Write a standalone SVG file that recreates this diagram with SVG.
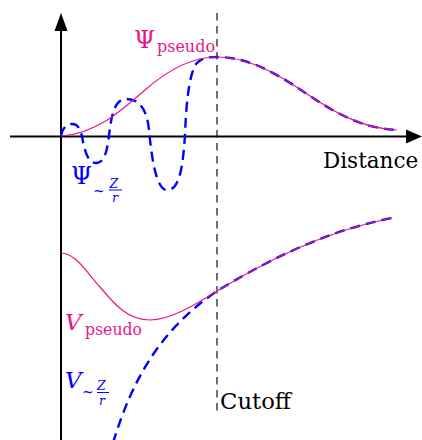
<svg xmlns="http://www.w3.org/2000/svg" width="422" height="440" viewBox="0 0 422 440">
<style>
.axis{stroke:#000;stroke-width:2;fill:none}
.cut{stroke:#111;stroke-width:1.2;stroke-dasharray:7.5 5.5;fill:none}
.pink{stroke:#e7168b;stroke-width:1.2;fill:none}
.blue{stroke:#0000ff;stroke-width:2.4;stroke-dasharray:10 6;fill:none}
.tp{fill:#e7168b}
.tb{fill:#0000ff}
.it{font-style:italic}
</style>
<rect width="422" height="440" fill="#fff"/>
<g id="axes">
<line class="axis" x1="10" y1="136.5" x2="410" y2="136.5"/>
<polygon points="422,136.5 406,129.5 406,143.5" fill="#000"/>
<line class="axis" x1="61" y1="440" x2="61" y2="28"/>
<polygon points="61,13 54.5,31 67.5,31" fill="#000"/>
</g>
<g id="cutoff-line">
<line class="cut" x1="217" y1="13" x2="217" y2="413"/>
</g>
<g id="connectors">
<path id="psi-coulomb" class="blue" d="M61,136 C62,128 67,124 72,124 C78,124 80,129 82,136 C84,148 87,163 96,163 C105,163 107,150 109,136 C111,118 114,99 126,99 C140,99 147,110 149,130 C151,150 155,190 167,190 C180,190 183,165 185,135 C186,105 189,75 196,64 C202,57 210,57 217,57 C245,57 270,70 295,86 C325,106 355,128 397,130"/>
<path id="psi-pseudo" class="pink" d="M61,136 C95,134 120,112 145,90 C170,68 195,57 217,57 C245,57 270,70 295,86 C325,106 355,128 397,130"/>
<path id="v-coulomb" class="blue" d="M113,443 C132,380 160,330 217,291 C260,265 320,232 392,218"/>
<path id="v-pseudo" class="pink" d="M61,253 C75,253 85,270 100,287 C115,305 128,320 150,320 C170,320 195,305 217,291 C260,265 320,232 392,218"/>
</g>
<g id="label-psi-pseudo" class="tp" font-family="DejaVu Serif, serif">
<text x="134" y="48" font-size="24">Ψ</text>
<text x="157" y="52" font-size="16" textLength="58" lengthAdjust="spacingAndGlyphs">pseudo</text>
</g>
<g id="label-psi-coulomb" class="tb" font-family="DejaVu Serif, serif">
<text x="71" y="184" font-size="24">Ψ</text>
<text x="93" y="196" font-size="14">~</text>
<text x="109.5" y="187.5" font-size="12.5" class="it">Z</text>
<line x1="109" y1="190" x2="122" y2="190" stroke="#0000ff" stroke-width="1"/>
<text x="112" y="202" font-size="12.5" class="it">r</text>
</g>
<g id="label-v-pseudo" class="tp" font-family="DejaVu Serif, serif">
<text x="65" y="330" font-size="23" class="it">V</text>
<text x="85" y="334.5" font-size="16" textLength="57" lengthAdjust="spacingAndGlyphs">pseudo</text>
</g>
<g id="label-v-coulomb" class="tb" font-family="DejaVu Serif, serif">
<text x="65" y="388" font-size="23" class="it">V</text>
<text x="82" y="397" font-size="14">~</text>
<text x="97" y="390" font-size="12.5" class="it">Z</text>
<line x1="97" y1="392.5" x2="109" y2="392.5" stroke="#0000ff" stroke-width="1"/>
<text x="99" y="405" font-size="12.5" class="it">r</text>
</g>
<g id="label-distance" font-family="DejaVu Serif, serif">
<text x="323" y="168" font-size="21.5">Distance</text>
</g>
<g id="label-cutoff" font-family="DejaVu Serif, serif">
<text x="220" y="408.5" font-size="23" textLength="71" lengthAdjust="spacingAndGlyphs">Cutoff</text>
</g>
</svg>
